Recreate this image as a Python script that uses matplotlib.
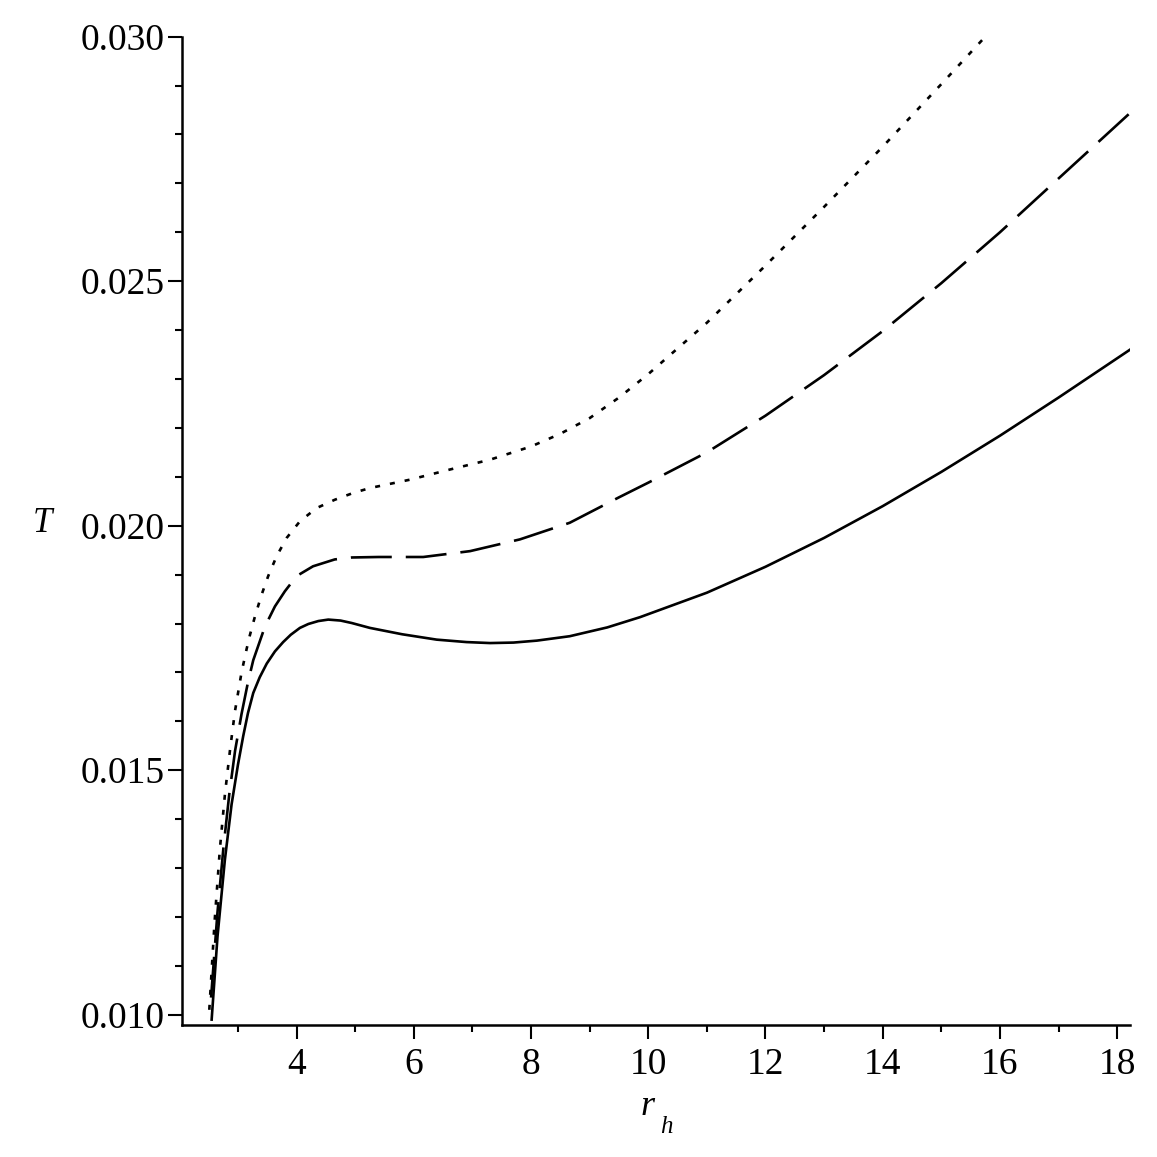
import numpy as np
import matplotlib
matplotlib.use("Agg")
import matplotlib.pyplot as plt
from matplotlib.ticker import MultipleLocator, FormatStrFormatter

plt.rcParams['font.family'] = ['Liberation Serif', 'DejaVu Serif']

# values
rh_solid = [2.55, 2.65, 2.776, 2.89, 3.00, 3.089, 3.17, 3.26, 3.37, 3.49, 3.63,
            3.77, 3.90, 4.056, 4.20, 4.37, 4.54, 4.75, 4.94, 5.25, 5.80, 6.39,
            6.90, 7.30, 7.70, 8.10, 8.66, 9.30, 9.86, 11.0, 12.0, 13.0, 14.0,
            15.0, 16.0, 17.0, 18.22]
T_solid = [0.00990, 0.01160, 0.01317, 0.01430, 0.01512, 0.01570, 0.01617, 0.01658,
           0.01690, 0.01718, 0.01743, 0.01762, 0.01777, 0.01791, 0.01799, 0.01805,
           0.01808, 0.01806, 0.01801, 0.01791, 0.01778, 0.01767, 0.01762, 0.01760,
           0.01761, 0.01765, 0.01774, 0.01792, 0.01813, 0.01863, 0.01916, 0.01975,
           0.02040, 0.02110, 0.02184, 0.02262, 0.02360]

rh_dash = [2.54, 2.65, 2.75, 2.85, 2.95, 3.06, 3.17, 3.26, 3.46, 3.63, 3.80, 4.00,
           4.28, 4.65, 4.94, 5.40, 6.16, 6.96, 7.81, 8.66, 9.50, 10.0, 11.0, 12.0,
           13.0, 14.0, 15.0, 16.0, 17.0, 18.22]
T_dash = [0.01035, 0.01210, 0.01340, 0.01450, 0.01540, 0.01615, 0.01680, 0.01725,
          0.01794, 0.01835, 0.01866, 0.01897, 0.01917, 0.01931, 0.01935, 0.01936,
          0.01936, 0.01948, 0.01972, 0.02006, 0.02058, 0.02088, 0.02150, 0.02225,
          0.02308, 0.02398, 0.02496, 0.02600, 0.02710, 0.02844]

rh_dot = [2.51, 2.60, 2.69, 2.776, 2.862, 2.947, 3.06, 3.147, 3.20, 3.29, 3.40,
          3.515, 3.66, 3.83, 4.056, 4.34, 4.65, 4.966, 5.25, 5.93, 6.62, 7.30,
          8.0, 8.5, 9.0, 9.5, 10.0, 11.0, 12.0, 13.0, 14.0, 15.0, 15.75]
T_dot = [0.01010, 0.01190, 0.01338, 0.01450, 0.01540, 0.01620, 0.01700, 0.01748,
         0.01775, 0.01815, 0.01858, 0.01897, 0.01938, 0.01975, 0.02009, 0.02036,
         0.02053, 0.02067, 0.02077, 0.02094, 0.02115, 0.02135, 0.02162, 0.02188,
         0.02220, 0.02262, 0.02310, 0.02415, 0.02532, 0.02652, 0.02775, 0.02903,
         0.03000]

fig = plt.figure(figsize=(11.57, 11.57), dpi=100)
ax = fig.add_axes([0.1576, 0.1141, 0.8191, 0.8542])

lw = 1.9
ax.plot(rh_solid, T_solid, color='black', lw=lw, linestyle='-')
ax.plot(rh_dash, T_dash, color='black', lw=lw, linestyle=(0, (15.5, 5.3)))
ax.plot(rh_dot, T_dot, color='black', lw=lw, linestyle=(0, (1.9, 3.8)))

ax.set_xlim(2.05, 18.22)
ax.set_ylim(0.00979, 0.030)

ax.spines['top'].set_visible(False)
ax.spines['right'].set_visible(False)
for s in ['left', 'bottom']:
    ax.spines[s].set_linewidth(1.8)

ax.set_xticks([4, 6, 8, 10, 12, 14, 16, 18])
ax.xaxis.set_minor_locator(MultipleLocator(1))
ax.yaxis.set_major_locator(MultipleLocator(0.005))
ax.yaxis.set_minor_locator(MultipleLocator(0.001))
ax.yaxis.set_major_formatter(FormatStrFormatter('%.3f'))

ax.tick_params(axis='both', which='major', direction='out', length=10, width=1.5,
               labelsize=27)
ax.tick_params(axis='both', which='minor', direction='out', length=5, width=1.5)
ax.tick_params(axis='x', which='major', pad=6)
ax.tick_params(axis='y', which='major', pad=3)

# axis titles, Maple style: T beside the axis, r with a low subscript h
fig.text(42 / 1157, 1 - 532 / 1157, 'T', fontsize=25, fontstyle='italic',
         ha='center', va='baseline')
fig.text(648 / 1157, 1 - 1115 / 1157, 'r', fontsize=26, fontstyle='italic',
         ha='center', va='baseline')
fig.text(666 / 1157, 1 - 1133 / 1157, 'h', fontsize=18, fontstyle='italic',
         ha='center', va='baseline')

fig.savefig('out.png', dpi=100)
